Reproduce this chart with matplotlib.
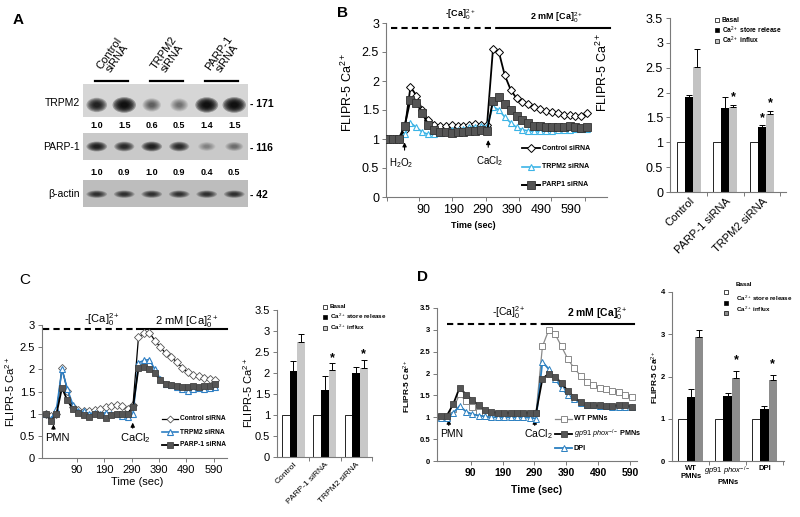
import numpy as np
import matplotlib
matplotlib.use("Agg")
import matplotlib.pyplot as plt
from matplotlib.patches import Ellipse
from matplotlib import font_manager

_names = {f.name for f in font_manager.fontManager.ttflist}
FONT = 'Liberation Sans'
NARROW = 'Liberation Sans Narrow' if 'Liberation Sans Narrow' in _names else FONT
plt.rcParams['font.family'] = [FONT, 'DejaVu Sans']
plt.rcParams['mathtext.fontset'] = 'custom'
plt.rcParams['mathtext.rm'] = FONT
plt.rcParams['mathtext.it'] = FONT + ':italic'
plt.rcParams['mathtext.bf'] = FONT + ':bold'

# ---------------- data ----------------
# A: western blot, densitometry printed under the bands
lane_groups = ['Control\nsiRNA', 'TRPM2\nsiRNA', 'PARP-1\nsiRNA']
trpm2_band = [1.0, 1.5, 0.6, 0.5, 1.4, 1.5]
parp1_band = [1.0, 0.9, 1.0, 0.9, 0.4, 0.5]
actin_band = [1.0, 1.0, 1.0, 1.0, 1.0, 1.0]
blot_rows = ['TRPM2', 'PARP-1', 'β-actin']
mw_kda = ['171', '116', '42']

# B: H2O2 stimulated, FLIPR-5 traces
t_b = [-35, -15, 5, 25, 45, 65, 85, 105, 125, 145, 165, 185, 205, 225, 245, 265, 285, 305,
       325, 345, 365, 385, 405, 425, 445, 465, 485, 505, 525, 545, 565, 585, 605, 625, 645]
ctrl_b = [1.0, 1.0, 1.0, 1.15, 1.9, 1.75, 1.5, 1.32, 1.25, 1.23, 1.22, 1.25, 1.22, 1.22, 1.24, 1.26, 1.24, 1.25,
          2.55, 2.5, 2.1, 1.85, 1.7, 1.64, 1.6, 1.55, 1.51, 1.48, 1.46, 1.44, 1.42, 1.41, 1.40, 1.40, 1.44]
trpm2_b = [1.0, 1.0, 1.0, 1.08, 1.28, 1.2, 1.12, 1.08, 1.08, 1.1, 1.12, 1.15, 1.16, 1.18, 1.2, 1.2, 1.22, 1.22,
           1.56, 1.5, 1.38, 1.28, 1.2, 1.16, 1.14, 1.13, 1.13, 1.14, 1.14, 1.15, 1.15, 1.16, 1.17, 1.17, 1.18]
parp1_b = [1.0, 1.0, 1.0, 1.22, 1.68, 1.62, 1.45, 1.25, 1.15, 1.12, 1.12, 1.1, 1.12, 1.12, 1.13, 1.14, 1.15, 1.14,
           1.66, 1.72, 1.6, 1.5, 1.4, 1.32, 1.27, 1.23, 1.22, 1.2, 1.2, 1.21, 1.2, 1.22, 1.2, 1.19, 1.2]

# C: PMN stimulated, siRNA
t_c = [-25, -5, 15, 35, 55, 75, 95, 115, 135, 155, 175, 195, 215, 235, 255, 275,
       295, 315, 335, 355, 375, 395, 415, 435, 455, 475, 495, 515, 535, 555, 575, 595]
ctrl_c = [1.0, 0.95, 1.0, 2.03, 1.52, 1.15, 1.08, 1.05, 1.05, 1.08, 1.1, 1.15, 1.18, 1.2, 1.18, 1.1,
          1.2, 2.72, 2.82, 2.83, 2.65, 2.5, 2.36, 2.27, 2.17, 2.03, 1.94, 1.88, 1.84, 1.8, 1.78, 1.76]
trpm2_c = [1.0, 0.88, 1.1, 2.0, 1.55, 1.2, 1.05, 1.05, 1.0, 1.02, 1.0, 1.02, 1.0, 1.0, 0.95, 0.92,
           1.0, 2.15, 2.2, 2.22, 2.0, 1.78, 1.68, 1.65, 1.6, 1.55, 1.52, 1.55, 1.58, 1.56, 1.58, 1.6]
parp1_c = [1.0, 0.83, 1.0, 1.58, 1.3, 1.1, 1.02, 0.97, 0.93, 1.0, 0.98, 0.9, 0.98, 1.0, 1.0, 1.0,
           1.15, 2.03, 2.05, 2.0, 1.92, 1.75, 1.68, 1.65, 1.62, 1.6, 1.6, 1.62, 1.6, 1.62, 1.62, 1.66]

# D: PMN stimulated, gp91phox-/- and DPI
t_d = [-5, 15, 35, 55, 75, 95, 115, 135, 155, 175, 195, 215, 235, 255, 275,
       295, 315, 335, 355, 375, 395, 415, 435, 455, 475, 495, 515, 535, 555, 575, 595]
wt_d = [1.0, 1.0, 1.2, 1.53, 1.37, 1.23, 1.13, 1.1, 1.08, 1.08, 1.08, 1.08, 1.08, 1.08, 1.08,
        1.1, 2.62, 3.0, 2.9, 2.62, 2.33, 2.12, 1.95, 1.81, 1.73, 1.67, 1.64, 1.6, 1.57, 1.52, 1.47]
gp91_d = [1.03, 1.04, 1.3, 1.68, 1.52, 1.4, 1.27, 1.17, 1.12, 1.1, 1.1, 1.1, 1.1, 1.1, 1.1,
          1.1, 1.88, 2.0, 1.93, 1.78, 1.6, 1.46, 1.34, 1.28, 1.27, 1.27, 1.26, 1.26, 1.28, 1.28, 1.24]
dpi_d = [0.98, 0.98, 1.1, 1.26, 1.13, 1.07, 1.04, 1.02, 1.0, 1.0, 1.0, 1.0, 1.0, 1.0, 0.99,
         0.97, 2.27, 2.1, 1.88, 1.67, 1.5, 1.42, 1.33, 1.29, 1.27, 1.25, 1.25, 1.24, 1.24, 1.24, 1.23]

# bar summaries
groups_b = ['Control', 'PARP-1 siRNA', 'TRPM2 siRNA']
basal_b = [1, 1, 1]
store_b, store_b_err = [1.92, 1.69, 1.30], [0.03, 0.23, 0.04]
influx_b, influx_b_err = [2.52, 1.70, 1.57], [0.35, 0.05, 0.06]
star_store_b, star_influx_b = [0, 0, 1], [0, 1, 1]

groups_c = ['Control', 'PARP-1 siRNA', 'TRPM2 siRNA']
basal_c = [1, 1, 1]
store_c, store_c_err = [2.04, 1.60, 1.99], [0.24, 0.33, 0.15]
influx_c, influx_c_err = [2.73, 2.08, 2.13], [0.20, 0.15, 0.19]
star_store_c, star_influx_c = [0, 0, 0], [0, 1, 1]

groups_d = ['WT\nPMNs', '$\\it{gp91\\ phox}^{-/-}$\nPMNs', 'DPI']
basal_d = [1, 1, 1]
store_d, store_d_err = [1.51, 1.55, 1.24], [0.20, 0.07, 0.05]
influx_d, influx_d_err = [2.93, 1.96, 1.91], [0.16, 0.17, 0.13]
star_store_d, star_influx_d = [0, 0, 0], [0, 1, 1]

bar_keys = ['Basal', 'Ca$^{2+}$ store release', 'Ca$^{2+}$ influx']
ca_free = '-[Ca]$_0^{2+}$'
ca_2mm = '2 mM [Ca]$_0^{2+}$'
ylab = 'FLIPR-5 Ca$^{2+}$'

# ---------------- figure ----------------
W, H = 800, 517
fig = plt.figure(figsize=(W / 100, H / 100), dpi=100)
fig.patch.set_facecolor('white')


def add_ax(l, t, r, b):
    return fig.add_axes([l / W, 1 - b / H, (r - l) / W, (b - t) / H])


ov = fig.add_axes([0, 0, 1, 1], zorder=10)
ov.set_xlim(0, W); ov.set_ylim(H, 0); ov.axis('off')


def excel(ax, fs, weight='normal'):
    for s in ('top', 'right'):
        ax.spines[s].set_visible(False)
    for s in ('left', 'bottom'):
        ax.spines[s].set_color('#7a7a7a'); ax.spines[s].set_linewidth(0.8)
    ax.tick_params(which='both', direction='out', length=3, width=0.7, color='#7a7a7a',
                   labelsize=fs, pad=2)
    for lab in ax.get_xticklabels() + ax.get_yticklabels():
        lab.set_fontweight(weight)
    ax.patch.set_alpha(0)


def line_key(x0, x1, y, label, fs, **style):
    ov.plot([x0, (x0 + x1) / 2, x1], [y, y, y], markevery=[1], **style)
    ov.text(x1 + 2, y, label, fontsize=fs, fontweight='bold', va='center', ha='left',
            family=[NARROW, 'DejaVu Sans'])


def box_keys(x, ys, tx, tys, fs, colors):
    for y, ty, lab, c in zip(ys, tys, bar_keys, colors):
        ov.plot([x], [y], marker='s', ms=3.4, mfc=c, mec='black', mew=0.5, ls='none')
        ov.text(tx, ty, lab, fontsize=fs, fontweight='bold', va='center', ha='left',
                family=[NARROW, 'DejaVu Sans'])


def yticks_half(ax, top):
    ticks = np.arange(0, top + 0.01, 0.5)
    ax.set_yticks(ticks)
    ax.set_yticklabels([f'{v:g}' for v in ticks])


def bar_panel(rect, groups, basal, store, s_err, influx, i_err, st_s, st_i, top, width,
              xlim, influx_col, fs, lab_fs, star_off, rot, half=True, weight='normal'):
    ax = add_ax(*rect)
    x = np.arange(len(groups))
    z = np.zeros(len(groups))
    ek = dict(lw=0.7, capthick=0.7, ecolor='black')
    ax.bar(x - width, basal, width, color='white', edgecolor='black', linewidth=0.6)
    ax.bar(x, store, width, color='black', yerr=[z, s_err], capsize=2, error_kw=ek)
    ax.bar(x + width, influx, width, color=influx_col, yerr=[z, i_err], capsize=2, error_kw=ek)
    for xi, v, e, s in zip(x, store, s_err, st_s):
        if s:
            ax.text(xi, v + e + star_off, '*', ha='center', va='center', fontsize=9, fontweight='bold')
    for xi, v, e, s in zip(x, influx, i_err, st_i):
        if s:
            ax.text(xi + width, v + e + star_off, '*', ha='center', va='center', fontsize=9, fontweight='bold')
    ax.set_xlim(*xlim); ax.set_ylim(0, top)
    if half:
        yticks_half(ax, top)
    else:
        ax.set_yticks(np.arange(0, top + 0.01, 1))
    ax.set_xticks(x)
    ax.set_xticks(list(x[:-1] + 0.5) + [x[-1] + 0.5], minor=True)
    if rot:
        ax.set_xticklabels(groups, rotation=45, ha='right', rotation_mode='anchor', fontsize=lab_fs)
    else:
        ax.set_xticklabels(groups, fontsize=lab_fs, linespacing=1.1)
    excel(ax, fs, weight)
    ax.tick_params(axis='x', which='major', length=0, labelsize=lab_fs, pad=3)
    if not rot:
        for lab in ax.get_xticklabels():
            lab.set_fontweight('bold')
    return ax


# ---------------- A: blot ----------------
ov.text(18, 20, 'A', fontsize=11, fontweight='bold', ha='center', va='center')
blots = [(trpm2_band, (83, 84, 248, 117), '#d6d6d6', -0.27, 0.95, 1.0),
         (parp1_band, (83, 133, 248, 160), '#c9c9c9', 0.0, 0.8, 1.0),
         (actin_band, (83, 180, 248, 207), '#bdbdbd', -0.05, 0.6, 0.75)]
blot_axes = []
for vals, rect, bg, yc, hh, gain in blots:
    bx = add_ax(*rect)
    bx.set_facecolor(bg)
    bx.set_xlim(-0.5, 5.5); bx.set_ylim(-1, 1)
    bx.set_xticks([]); bx.set_yticks([])
    for s in bx.spines.values():
        s.set_visible(False)
    for i, q in enumerate(vals):
        dark = min(1.0, (q / 1.2) ** 1.5) * gain
        w = 0.55 + 0.3 * min(q, 1.5) / 1.5
        h = hh * (0.75 + 0.25 * min(q, 1.5) / 1.5)
        for sc in np.linspace(1.0, 0.3, 7):
            bx.add_patch(Ellipse((i, yc), w * sc, h * sc, color='black', alpha=dark * 0.3, lw=0))
    blot_axes.append(bx)

for i, (a, b) in enumerate(zip(trpm2_band, parp1_band)):
    blot_axes[0].text(i, -1.5, f'{a:.1f}', ha='center', va='center', fontsize=6.5,
                      fontweight='bold', clip_on=False)
    blot_axes[1].text(i, -1.96, f'{b:.1f}', ha='center', va='center', fontsize=6.5,
                      fontweight='bold', clip_on=False)
for k, lab in enumerate(lane_groups):
    blot_axes[0].plot([2 * k - 0.05, 2 * k + 1.12], [1.2, 1.2], color='black', lw=1.6, clip_on=False)
    blot_axes[0].text(2 * k + 0.6, 2.7, lab, rotation=55, ha='center', va='center', fontsize=8,
                      multialignment='center', clip_on=False, linespacing=1.0)
for (lab, mw), y in zip(zip(blot_rows, mw_kda), (103, 147, 194)):
    ov.text(80, y, lab, ha='right', va='center', fontsize=7.5)
    ov.text(250, y + 1, '- ' + mw, ha='left', va='center', fontsize=7.5, fontweight='bold')

# ---------------- B: traces ----------------
ov.text(342, 13, 'B', fontsize=11, fontweight='bold', ha='center', va='center')
axb = add_ax(386, 23, 607, 197)
axb.plot(t_b, ctrl_b, color='black', lw=1.3, marker='D', ms=4.2, mfc='white', mec='black', mew=0.7, zorder=3)
axb.plot(t_b, trpm2_b, color='#3cb4e6', lw=1.2, marker='^', ms=5, mfc='white', mec='#3cb4e6', mew=0.8, zorder=4)
axb.plot(t_b, parp1_b, color='black', lw=1.4, marker='s', ms=5.2, mfc='#555555', mec='#333333', mew=0.6, zorder=5)
axb.set_xlim(-38, 712); axb.set_ylim(0, 3)
yticks_half(axb, 3)
axb.set_xticks([90, 190, 290, 390, 490, 590])
axb.set_xticks([-36, 74, 187, 300, 413, 523, 636], minor=True)
excel(axb, 9)
axb.tick_params(axis='x', which='major', length=0, pad=5)
axb.plot([-22, 349], [2.91, 2.91], color='black', lw=1.5, dashes=(3, 2), clip_on=False)
axb.plot([349, 722], [2.91, 2.91], color='black', lw=1.5, clip_on=False)
ov.text(460, 15, ca_free, fontsize=6.5, fontweight='bold', ha='center', va='center')
ov.text(557, 18, ca_2mm, fontsize=6.5, fontweight='bold', ha='center', va='center')
arw = dict(arrowstyle='-|>', color='black', lw=0.8, mutation_scale=6)
axb.annotate('', xy=(25, 0.99), xytext=(25, 0.76), arrowprops=arw)
axb.annotate('', xy=(309, 1.03), xytext=(309, 0.81), arrowprops=arw)
axb.text(14, 0.58, 'H$_2$O$_2$', fontsize=7, ha='center', va='center')
axb.text(312, 0.62, 'CaCl$_2$', fontsize=7, ha='center', va='center')
ov.text(347, 92, ylab, rotation=90, fontsize=9, ha='center', va='center')
ov.text(473, 225, 'Time (sec)', fontsize=6.5, fontweight='bold', ha='center', va='center')
line_key(522, 540, 148, 'Control siRNA', 5, color='black', lw=1.3, marker='D', ms=4, mfc='white', mec='black', mew=0.7)
line_key(522, 540, 167, 'TRPM2 siRNA', 5, color='#3cb4e6', lw=1.2, marker='^', ms=5, mfc='white', mec='#3cb4e6', mew=0.8)
line_key(522, 540, 185, 'PARP1 siRNA', 5, color='black', lw=1.4, marker='s', ms=5.2, mfc='#555555', mec='#333333', mew=0.6)

# B bars
bar_panel((670, 18, 786, 192), groups_b, basal_b, store_b, store_b_err, influx_b, influx_b_err,
          star_store_b, star_influx_b, 3.5, 0.22, (-0.52, 2.66), '#c3c3c3', 9, 8, 0.15, True)
ov.text(602, 72, ylab, rotation=90, fontsize=9, ha='center', va='center')
box_keys(717, (20, 30, 40.5), 722, (20, 30, 40.5), 4.8, ('white', 'black', '#c3c3c3'))

# ---------------- C: traces ----------------
ov.text(25, 280, 'C', fontsize=11, ha='center', va='center')
axc = add_ax(42, 325, 227, 458)
axc.plot(t_c, ctrl_c, color='black', lw=0.9, marker='D', ms=3.8, mfc='white', mec='#555555', mew=0.6, zorder=3)
axc.plot(t_c, trpm2_c, color='#2e7fc4', lw=1.2, marker='^', ms=4.5, mfc='white', mec='#2e7fc4', mew=0.8, zorder=4)
axc.plot(t_c, parp1_c, color='black', lw=1.3, marker='s', ms=5, mfc='#555555', mec='#444444', mew=0.6, zorder=5)
axc.set_xlim(-38, 639); axc.set_ylim(0, 3)
yticks_half(axc, 3)
axc.set_xticks([90, 190, 290, 390, 490, 590])
excel(axc, 8)
axc.plot([-33, 311], [2.9, 2.9], color='black', lw=1.5, dashes=(3, 2), clip_on=False)
axc.plot([311, 640], [2.9, 2.9], color='black', lw=1.5, clip_on=False)
ov.text(102, 320, ca_free, fontsize=8, ha='center', va='center')
ov.text(187, 322, ca_2mm, fontsize=8, ha='center', va='center')
axc.annotate('', xy=(4, 0.82), xytext=(4, 0.59), arrowprops=arw)
axc.annotate('', xy=(294, 0.86), xytext=(294, 0.61), arrowprops=arw)
axc.text(17, 0.45, 'PMN', fontsize=8, ha='center', va='center')
axc.text(304, 0.45, 'CaCl$_2$', fontsize=8, ha='center', va='center')
ov.text(10, 392, ylab, rotation=90, fontsize=8, ha='center', va='center')
ov.text(137, 482, 'Time (sec)', fontsize=8, ha='center', va='center')
line_key(162, 178, 419, 'Control siRNA', 4.8, color='black', lw=0.9, marker='D', ms=3.5, mfc='white', mec='#555555', mew=0.6)
line_key(162, 178, 432, 'TRPM2 siRNA', 4.8, color='#2e7fc4', lw=1.2, marker='^', ms=4.5, mfc='white', mec='#2e7fc4', mew=0.8)
line_key(162, 178, 445, 'PARP-1 siRNA', 4.8, color='black', lw=1.3, marker='s', ms=5, mfc='#555555', mec='#444444', mew=0.6)

# C bars
bar_panel((277, 310, 372, 457), groups_c, basal_c, store_c, store_c_err, influx_c, influx_c_err,
          star_store_c, star_influx_c, 3.5, 0.24, (-0.52, 2.5), '#c8c8c8', 8, 6, 0.12, True)
ov.text(248, 393, ylab, rotation=90, fontsize=8, ha='center', va='center')
box_keys(325, (306.7, 316.7, 327.7), 330, (306.7, 316.7, 327.7), 4.5, ('white', 'black', '#c8c8c8'))

# ---------------- D: traces ----------------
ov.text(423, 277, 'D', fontsize=11, fontweight='bold', ha='center', va='center')
axd = add_ax(437, 308, 637, 461)
axd.plot(t_d, wt_d, color='#8a8a8a', lw=0.9, marker='s', ms=4.5, mfc='white', mec='#777777', mew=0.6, zorder=3)
axd.plot(t_d, gp91_d, color='black', lw=1.3, marker='s', ms=4.5, mfc='#555555', mec='#444444', mew=0.6, zorder=5)
axd.plot(t_d, dpi_d, color='#2a7fc0', lw=1.3, marker='^', ms=4.2, mfc='white', mec='#2a7fc0', mew=0.7, zorder=4)
axd.set_xlim(-16, 612); axd.set_ylim(0, 3.5)
yticks_half(axd, 3.5)
axd.set_xticks([90, 190, 290, 390, 490, 590])
excel(axd, 5.5, 'bold')
axd.tick_params(axis='x', labelsize=7.5)
axd.plot([14, 317], [3.13, 3.13], color='black', lw=1.5, dashes=(3, 2), clip_on=False)
axd.plot([317, 603], [3.13, 3.13], color='black', lw=1.5, clip_on=False)
ov.text(509, 313, ca_free, fontsize=7.5, ha='center', va='center')
ov.text(597, 314, ca_2mm, fontsize=7.5, fontweight='bold', ha='center', va='center')
axd.annotate('', xy=(21, 1.01), xytext=(21, 0.75), arrowprops=arw)
axd.annotate('', xy=(291, 1.01), xytext=(291, 0.75), arrowprops=arw)
axd.text(29, 0.62, 'PMN', fontsize=7.5, ha='center', va='center')
axd.text(301, 0.62, 'CaCl$_2$', fontsize=7.5, ha='center', va='center')
ov.text(407, 386, ylab, rotation=90, fontsize=6, fontweight='bold', ha='center', va='center')
ov.text(537, 490, 'Time (sec)', fontsize=7.5, fontweight='bold', ha='center', va='center')
line_key(555, 572, 419, 'WT PMNs', 5.2, color='#8a8a8a', lw=0.9, marker='s', ms=4.5, mfc='white', mec='#777777', mew=0.6)
line_key(555, 572, 434, '$\\it{gp91\\ phox}^{-/-}$ PMNs', 5.2, color='black', lw=1.3, marker='s', ms=4.5, mfc='#555555', mec='#444444', mew=0.6)
line_key(555, 572, 448, 'DPI', 5.2, color='#2a7fc0', lw=1.3, marker='^', ms=4.2, mfc='white', mec='#2a7fc0', mew=0.7)

# D bars
bar_panel((672, 292, 784, 461), groups_d, basal_d, store_d, store_d_err, influx_d, influx_d_err,
          star_store_d, star_influx_d, 4, 0.225, (-0.51, 2.53), '#8c8c8c', 5.5, 5.5, 0.25, False,
          half=False, weight='bold')
ov.text(655, 377, ylab, rotation=90, fontsize=6, fontweight='bold', ha='center', va='center')
box_keys(726, (291.7, 302.7, 312.7), 736, (285, 298.3, 309.3), 4.5, ('white', 'black', '#8c8c8c'))

fig.savefig('out.png', dpi=100, facecolor='white')
